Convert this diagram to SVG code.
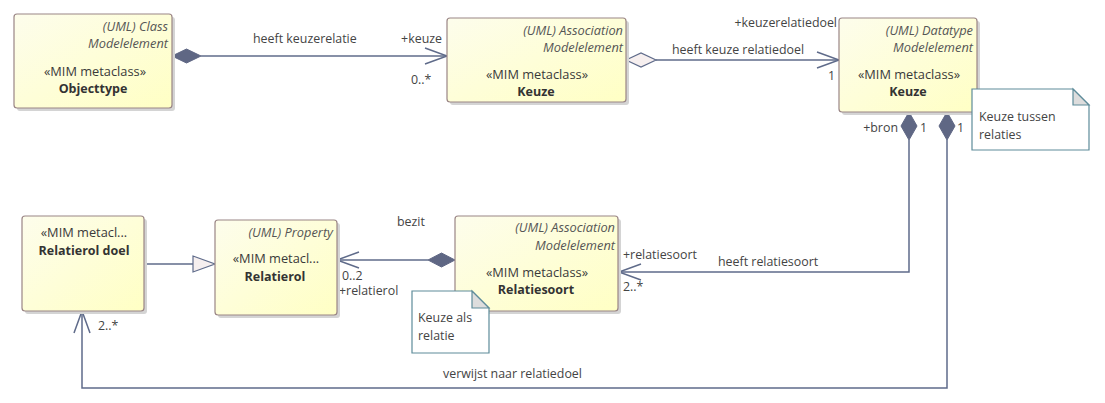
<svg xmlns="http://www.w3.org/2000/svg" width="1105" height="403" viewBox="0 0 1105 403">
<defs>
<linearGradient id="g" x1="0" y1="0" x2="1" y2="1">
<stop offset="0" stop-color="#FDFDEC"/>
<stop offset="1" stop-color="#FFFFC4"/>
</linearGradient>
<style>
.box{fill:url(#g);stroke:#9A8585;stroke-width:1.2}
.sh{fill:#D4D4D4}
.t{font-family:"Open Sans","Noto Sans",sans-serif;font-size:12.8px;fill:#444}
.i{font-style:italic;fill:#555;text-anchor:end}
.s{text-anchor:middle;fill:#3A3A3A}
.b{font-weight:bold;text-anchor:middle;fill:#333;font-size:12.5px}
.c{fill:none;stroke:#5F6B8A;stroke-width:1.5}
.fd{fill:#5F6784;stroke:#5F6784;stroke-width:1}
.hd{fill:#F6EFEF;stroke:#5F6B8A;stroke-width:1.2}
.note{fill:#FFFFFF;stroke:#5E8C9A;stroke-width:1.2}
.fold{fill:#DDDDDD;stroke:#5E8C9A;stroke-width:1.2}
.l{font-family:"Open Sans","Noto Sans",sans-serif;font-size:12.4px;fill:#444}
.e{text-anchor:end}
</style>
</defs>
<rect width="1105" height="403" fill="#FFFFFF"/>

<g id="connectors">
<line class="c" x1="201" y1="56" x2="447" y2="56"/>
<polygon class="fd" points="172,56 186.5,49 201,56 186.5,63"/>
<polyline class="c" points="425,48 447,56 425,64"/>

<line class="c" x1="656" y1="60" x2="839" y2="60"/>
<polygon class="hd" points="626,60 641,53 656,60 641,67"/>
<polyline class="c" points="817,52 839,60 817,68"/>

<polyline class="c" points="909,140 909,272 619,272"/>
<polygon class="fd" points="909,112 917,126 909,140 901,126"/>
<polyline class="c" points="641,264 619,272 641,280"/>

<polyline class="c" points="947,140 947,388 82,388 82,311"/>
<polygon class="fd" points="947,112 955,126 947,140 939,126"/>
<polyline class="c" points="74,333 82,311 90,333"/>

<line class="c" x1="144" y1="264" x2="193" y2="264"/>
<polygon class="hd" points="193,256 215,264 193,272"/>

<line class="c" x1="337" y1="260" x2="428" y2="260"/>
<polygon class="fd" points="428,260 441.5,253 455,260 441.5,267"/>
<polyline class="c" points="359,252 337,260 359,268"/>

<text class="l" x="253" y="43">heeft keuzerelatie</text>
<text class="l e" x="442" y="43">+keuze</text>
<text class="l" x="411" y="84">0..*</text>
<text class="l" x="672" y="54">heeft keuze relatiedoel</text>
<text class="l e" x="837" y="27">+keuzerelatiedoel</text>
<text class="l" x="828" y="80">1</text>
<text class="l e" x="898" y="132">+bron</text>
<text class="l" x="920" y="132">1</text>
<text class="l" x="957" y="132">1</text>
<text class="l" x="397" y="226">bezit</text>
<text class="l" x="342" y="280">0..2</text>
<text class="l" x="339" y="295">+relatierol</text>
<text class="l" x="623" y="259">+relatiesoort</text>
<text class="l" x="623" y="291">2..*</text>
<text class="l" x="718" y="266">heeft relatiesoort</text>
<text class="l" x="98" y="330">2..*</text>
<text class="l" x="443" y="378">verwijst naar relatiedoel</text>
</g>

<g id="objecttype">
<rect class="sh" x="17" y="17" width="158" height="94" rx="3"/>
<rect class="box" x="14" y="14" width="158" height="94" rx="3"/>
<text class="t i" x="168" y="31">(UML) Class</text>
<text class="t i" x="168" y="48">Modelelement</text>
<text class="t s" x="95" y="76">«MIM metaclass»</text>
<text class="t b" x="93" y="93">Objecttype</text>
</g>

<g id="keuze-association">
<rect class="sh" x="450" y="21" width="179" height="84" rx="3"/>
<rect class="box" x="447" y="18" width="179" height="84" rx="3"/>
<text class="t i" x="623" y="35">(UML) Association</text>
<text class="t i" x="623" y="52">Modelelement</text>
<text class="t s" x="537" y="79">«MIM metaclass»</text>
<text class="t b" x="536" y="96">Keuze</text>
</g>

<g id="keuze-datatype">
<rect class="sh" x="842" y="21" width="138" height="94" rx="3"/>
<rect class="box" x="839" y="18" width="138" height="94" rx="3"/>
<text class="t i" x="973" y="35">(UML) Datatype</text>
<text class="t i" x="973" y="52">Modelelement</text>
<text class="t s" x="909" y="79">«MIM metaclass»</text>
<text class="t b" x="908" y="96">Keuze</text>
</g>

<g id="relatierol-doel">
<rect class="sh" x="25" y="219" width="122" height="95" rx="3"/>
<rect class="box" x="22" y="216" width="122" height="95" rx="3"/>
<text class="t s" x="84" y="237">«MIM metacl...</text>
<text class="t b" x="84" y="255">Relatierol doel</text>
</g>

<g id="relatierol">
<rect class="sh" x="218" y="223" width="122" height="95" rx="3"/>
<rect class="box" x="215" y="220" width="122" height="95" rx="3"/>
<text class="t i" x="333" y="237">(UML) Property</text>
<text class="t s" x="276" y="263">«MIM metacl...</text>
<text class="t b" x="275" y="281">Relatierol</text>
</g>

<g id="relatiesoort">
<rect class="sh" x="458" y="219" width="163" height="95" rx="3"/>
<rect class="box" x="455" y="216" width="163" height="95" rx="3"/>
<text class="t i" x="615" y="232">(UML) Association</text>
<text class="t i" x="615" y="250">Modelelement</text>
<text class="t s" x="537" y="277">«MIM metaclass»</text>
<text class="t b" x="536" y="294">Relatiesoort</text>
</g>

<g id="note-keuze-tussen-relaties">
<polygon class="note" points="972,89 1073,89 1089,105 1089,150 972,150"/>
<polygon class="fold" points="1073,89 1073,105 1089,105"/>
<text class="l" x="979" y="121">Keuze tussen</text>
<text class="l" x="979" y="139">relaties</text>
</g>

<g id="note-keuze-als-relatie">
<polygon class="note" points="412,291 472,291 489,308 489,353 412,353"/>
<polygon class="fold" points="472,291 472,308 489,308"/>
<text class="l" x="418" y="322">Keuze als</text>
<text class="l" x="418" y="340">relatie</text>
</g>
</svg>
